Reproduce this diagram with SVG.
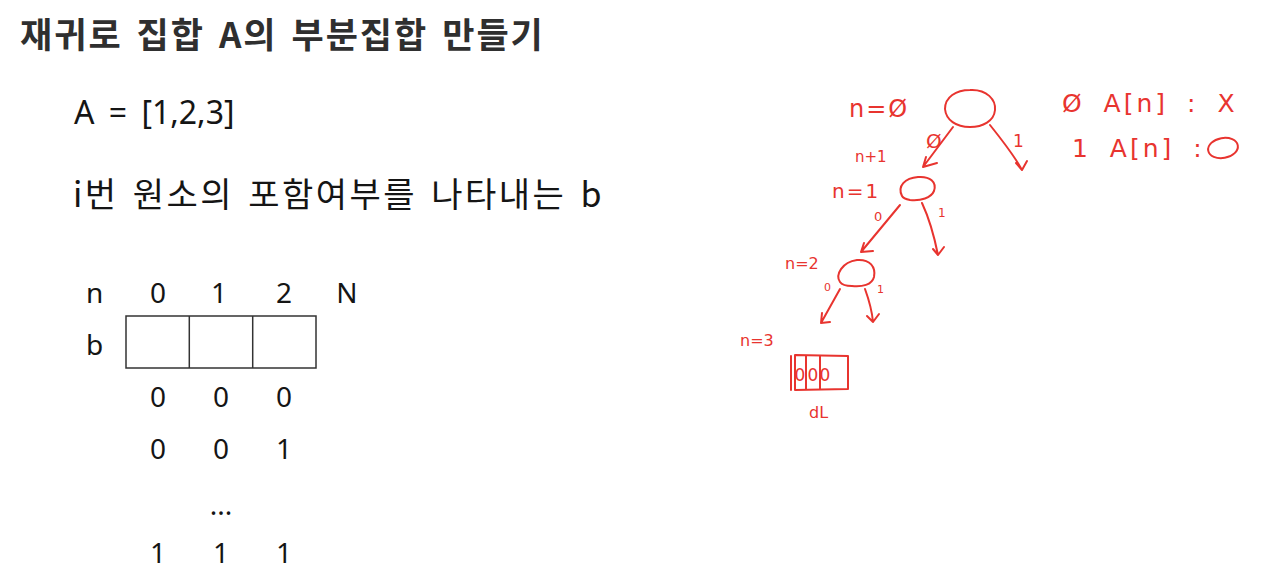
<svg xmlns="http://www.w3.org/2000/svg" width="1287" height="582" viewBox="0 0 1287 582">
<style>
.title{font-family:"Noto Sans CJK KR","Noto Sans",sans-serif;font-weight:bold;font-size:35px;fill:#2f2f2f;letter-spacing:2px;word-spacing:4px}
.body{font-family:"Noto Sans CJK KR","Noto Sans",sans-serif;font-size:34px;fill:#151515;letter-spacing:2.5px;word-spacing:4px}
.lat{font-family:"Noto Sans","Open Sans",sans-serif;font-size:32px;fill:#151515}
.tbl{font-family:"Noto Sans","Open Sans",sans-serif;font-size:28px;fill:#151515}
.cell{fill:none;stroke:#333;stroke-width:1.5}
.hw{font-family:"DejaVu Sans","Noto Sans",sans-serif;fill:#e8342f}
.ink{fill:none;stroke:#e8342f;stroke-width:2;stroke-linecap:round;stroke-linejoin:round}
</style>
<rect width="1287" height="582" fill="#ffffff"/>
<g id="title"><text class="title" x="20" y="48">재귀로 집합 A의 부분집합 만들기</text></g>
<g id="setA"><text class="lat" x="74" y="124" word-spacing="6">A = [1,2,3]</text></g>
<g id="desc"><text class="body" x="73" y="207">i번 원소의 포함여부를 나타내는 b</text></g>
<g id="table">
  <text class="tbl" x="86" y="303">n</text>
  <text class="tbl" x="158" y="303" text-anchor="middle">0</text>
  <text class="tbl" x="219" y="303" text-anchor="middle">1</text>
  <text class="tbl" x="284" y="303" text-anchor="middle">2</text>
  <text class="tbl" x="347" y="303" text-anchor="middle">N</text>
  <text class="tbl" x="86" y="355">b</text>
  <rect class="cell" x="126" y="316" width="190" height="52"/>
  <line class="cell" x1="189.3" y1="316" x2="189.3" y2="368"/>
  <line class="cell" x1="252.7" y1="316" x2="252.7" y2="368"/>
  <text class="tbl" x="158" y="407" text-anchor="middle">0</text>
  <text class="tbl" x="221" y="407" text-anchor="middle">0</text>
  <text class="tbl" x="284" y="407" text-anchor="middle">0</text>
  <text class="tbl" x="158" y="459" text-anchor="middle">0</text>
  <text class="tbl" x="221" y="459" text-anchor="middle">0</text>
  <text class="tbl" x="284" y="459" text-anchor="middle">1</text>
  <text class="tbl" x="221" y="515" text-anchor="middle" font-size="20">...</text>
  <text class="tbl" x="158" y="563" text-anchor="middle">1</text>
  <text class="tbl" x="221" y="563" text-anchor="middle">1</text>
  <text class="tbl" x="284" y="563" text-anchor="middle">1</text>
</g>
<g id="legend">
  <text class="hw" x="1062" y="112" font-size="25" letter-spacing="3" word-spacing="8">Ø A[n] : X</text>
  <text class="hw" x="1072" y="157" font-size="25" letter-spacing="3" word-spacing="8">1 A[n] :</text>
  <ellipse class="ink" cx="1223" cy="148" rx="15" ry="10" transform="rotate(-10 1223 148)"/>
</g>
<g id="node-root">
  <text class="hw" x="849" y="117" font-size="24" letter-spacing="2">n=Ø</text>
  <path class="ink" d="M970 90 C987 89 996 100 995 110 C994 121 983 127 970 127 C956 127 946 120 945 109 C945 97 956 90 970 90 Z"/>
</g>
<g id="node-n1">
  <text class="hw" x="855" y="162" font-size="15">n+1</text>
  <text class="hw" x="832" y="198" font-size="20" letter-spacing="2">n=1</text>
  <path class="ink" d="M902 196 C897 186 905 178 918 177 C930 176 937 182 934 191 C931 198 921 201 910 200 C905 199 903 198 902 196 Z"/>
</g>
<g id="node-n2">
  <text class="hw" x="785" y="269" font-size="16">n=2</text>
  <path class="ink" d="M840 282 C835 275 842 262 857 260 C870 259 876 267 874 277 C872 285 862 287 852 286 C845 286 842 285 840 282 Z"/>
</g>
<g id="node-n3">
  <text class="hw" x="740" y="346" font-size="16">n=3</text>
  <path class="ink" d="M791 356 L791 390 M795 355 L848 356 L848 389 L795 390 Z M806 356 L806 390 M820 356 L820 389" stroke-width="1.8"/>
  <text class="hw" x="800" y="381" font-size="17" text-anchor="middle">0</text>
  <text class="hw" x="813" y="381" font-size="17" text-anchor="middle">0</text>
  <text class="hw" x="825" y="381" font-size="17" text-anchor="middle">0</text>
  <text class="hw" x="809" y="418" font-size="16">dL</text>
</g>
<g id="connectors">
  <path class="ink" d="M953 127 L923 167 M923 167 L937 163 M923 167 L926 157"/>
  <text class="hw" x="926" y="148" font-size="20">Ø</text>
  <path class="ink" d="M990 125 C1002 140 1014 155 1022 170 M1016 163 L1022 170 L1027 161"/>
  <text class="hw" x="1013" y="147" font-size="17">1</text>
  <path class="ink" d="M900 205 L861 252 M861 252 L873 251 M861 252 L864 243"/>
  <text class="hw" x="874" y="221" font-size="13">0</text>
  <path class="ink" d="M922 203 C929 218 934 235 938 255 M933 249 L938 255 L944 247"/>
  <text class="hw" x="938" y="217" font-size="12">1</text>
  <path class="ink" d="M840 289 L821 323 M821 323 L830 322 M821 323 L822 313"/>
  <text class="hw" x="824" y="291" font-size="11">0</text>
  <path class="ink" d="M865 289 C869 300 872 311 873 322 M867 316 L873 322 L879 314"/>
  <text class="hw" x="877" y="293" font-size="11">1</text>
</g>
</svg>
